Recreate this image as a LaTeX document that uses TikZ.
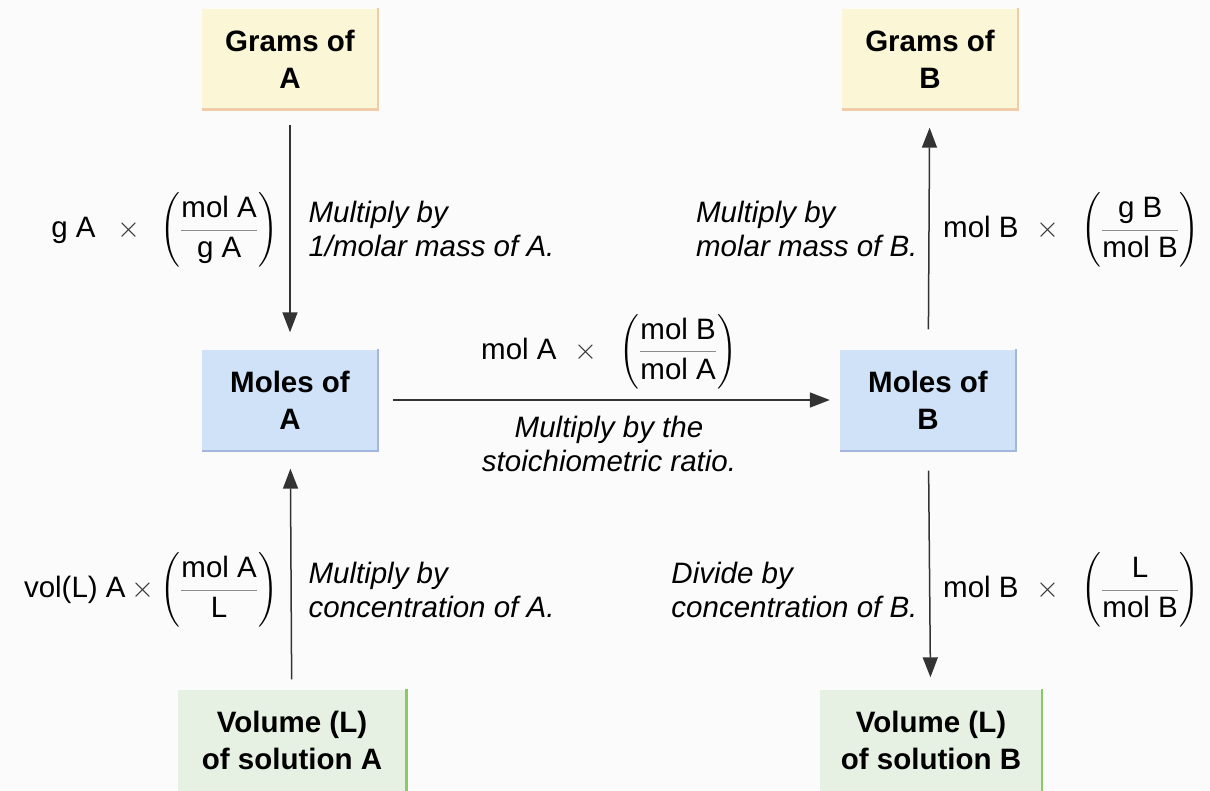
\documentclass[tikz,border=0pt]{standalone}
\usepackage{fix-cm}
\usepackage{amsmath}
\usepackage{xcolor}
\usepackage{fontspec}
\setmainfont{Liberation Sans}
\usetikzlibrary{arrows.meta}
\definecolor{pagebg}{RGB}{251,251,251}
\definecolor{gramsfill}{RGB}{250,246,214}
\definecolor{gramsedge}{RGB}{240,204,168}
\definecolor{molesfill}{RGB}{207,226,248}
\definecolor{molesedge}{RGB}{162,182,222}
\definecolor{volfill}{RGB}{231,241,227}
\definecolor{voledge}{RGB}{140,200,100}
\newcommand{\ratio}[2]{$\biggl({\color{black!45}\dfrac{\color{black}\mbox{#1}}{\color{black}\mbox{#2}}}\biggr)$}
\newcommand{\tms}{{\color{black!80}$\times$}}
\begin{document}
\begin{tikzpicture}[x=1pt,y=-1pt,
  box/.style={minimum width=176pt,minimum height=101pt,align=center,inner sep=0pt,
    font=\bfseries\fontsize{29.5}{37}\selectfont},
  lbl/.style={align=left,font=\itshape\fontsize{29.5}{34}\selectfont},
  frm/.style={inner sep=0pt,font=\fontsize{29.5}{34}\selectfont},
  arr/.style={-{Triangle[length=20pt,width=15pt]},line width=1.5pt,draw=black!80}]
\useasboundingbox[fill=pagebg] (0,0) rectangle (1210,790);
% boxes
\node[box,fill=gramsfill] (ga) at (290,59) {Grams of\\A};
\node[box,fill=gramsfill] (gb) at (930,59) {Grams of\\B};
\node[box,fill=molesfill] (ma) at (290,400) {Moles of\\A};
\node[box,fill=molesfill] (mb) at (928,400) {Moles of\\B};
\node[box,fill=volfill,minimum width=229pt] (va) at (292,740) {Volume (L)\\of solution A};
\node[box,fill=volfill,minimum width=222pt] (vb) at (931,740) {Volume (L)\\of solution B};
\draw[gramsedge,line width=2.5pt] (ga.north east) -- (ga.south east) -- (ga.south west);
\draw[gramsedge,line width=2.5pt] (gb.north east) -- (gb.south east) -- (gb.south west);
\draw[molesedge,line width=2pt] (ma.north east) -- (ma.south east) -- (ma.south west);
\draw[molesedge,line width=2pt] (mb.north east) -- (mb.south east) -- (mb.south west);
\draw[voledge,line width=2.5pt] (va.north east) -- (va.south east);
\draw[voledge,line width=2.5pt] (vb.north east) -- (vb.south east);
% arrows
\draw[arr,shorten <=15pt,shorten >=17pt] (ga) -- (ma);
\draw[arr,shorten <=15pt,shorten >=10pt] (ma) -- node[frm,above=10pt]{mol A\hspace{18pt}\tms\hspace{22pt}\ratio{mol B}{mol A}}
  node[lbl,below=12pt,align=center]{Multiply by the\\stoichiometric ratio.} (mb);
\draw[arr,shorten <=20pt,shorten >=18pt] (mb) -- (gb);
\draw[arr,shorten <=20pt,shorten >=12pt] (mb) -- (vb);
\draw[arr,shorten <=10pt,shorten >=18pt] (va) -- (ma);
% labels
\node[frm,anchor=east] (fga) at (278,230) {g A\hspace{22pt}\tms\hspace{20pt}\ratio{mol A}{g A}};
\node[lbl,anchor=west] (tga) at (305,229) {Multiply by\\1/molar mass of A.};
\node[lbl,anchor=east] (tgb) at (921,229) {Multiply by\\molar mass of B.};
\node[frm,anchor=west] (fgb) at (943,230) {mol B\hspace{18pt}\tms\hspace{22pt}\ratio{g B}{mol B}};
\node[frm,anchor=east] (fva) at (278,590) {vol(L) A\hspace{6pt}\tms\hspace{6pt}\ratio{mol A}{L}};
\node[lbl,anchor=west] (tva) at (305,590) {Multiply by\\concentration of A.};
\node[lbl,anchor=east] (tvb) at (921,590) {Divide by\\concentration of B.};
\node[frm,anchor=west] (fvb) at (943,590) {mol B\hspace{18pt}\tms\hspace{22pt}\ratio{L}{mol B}};
\end{tikzpicture}
\end{document}
